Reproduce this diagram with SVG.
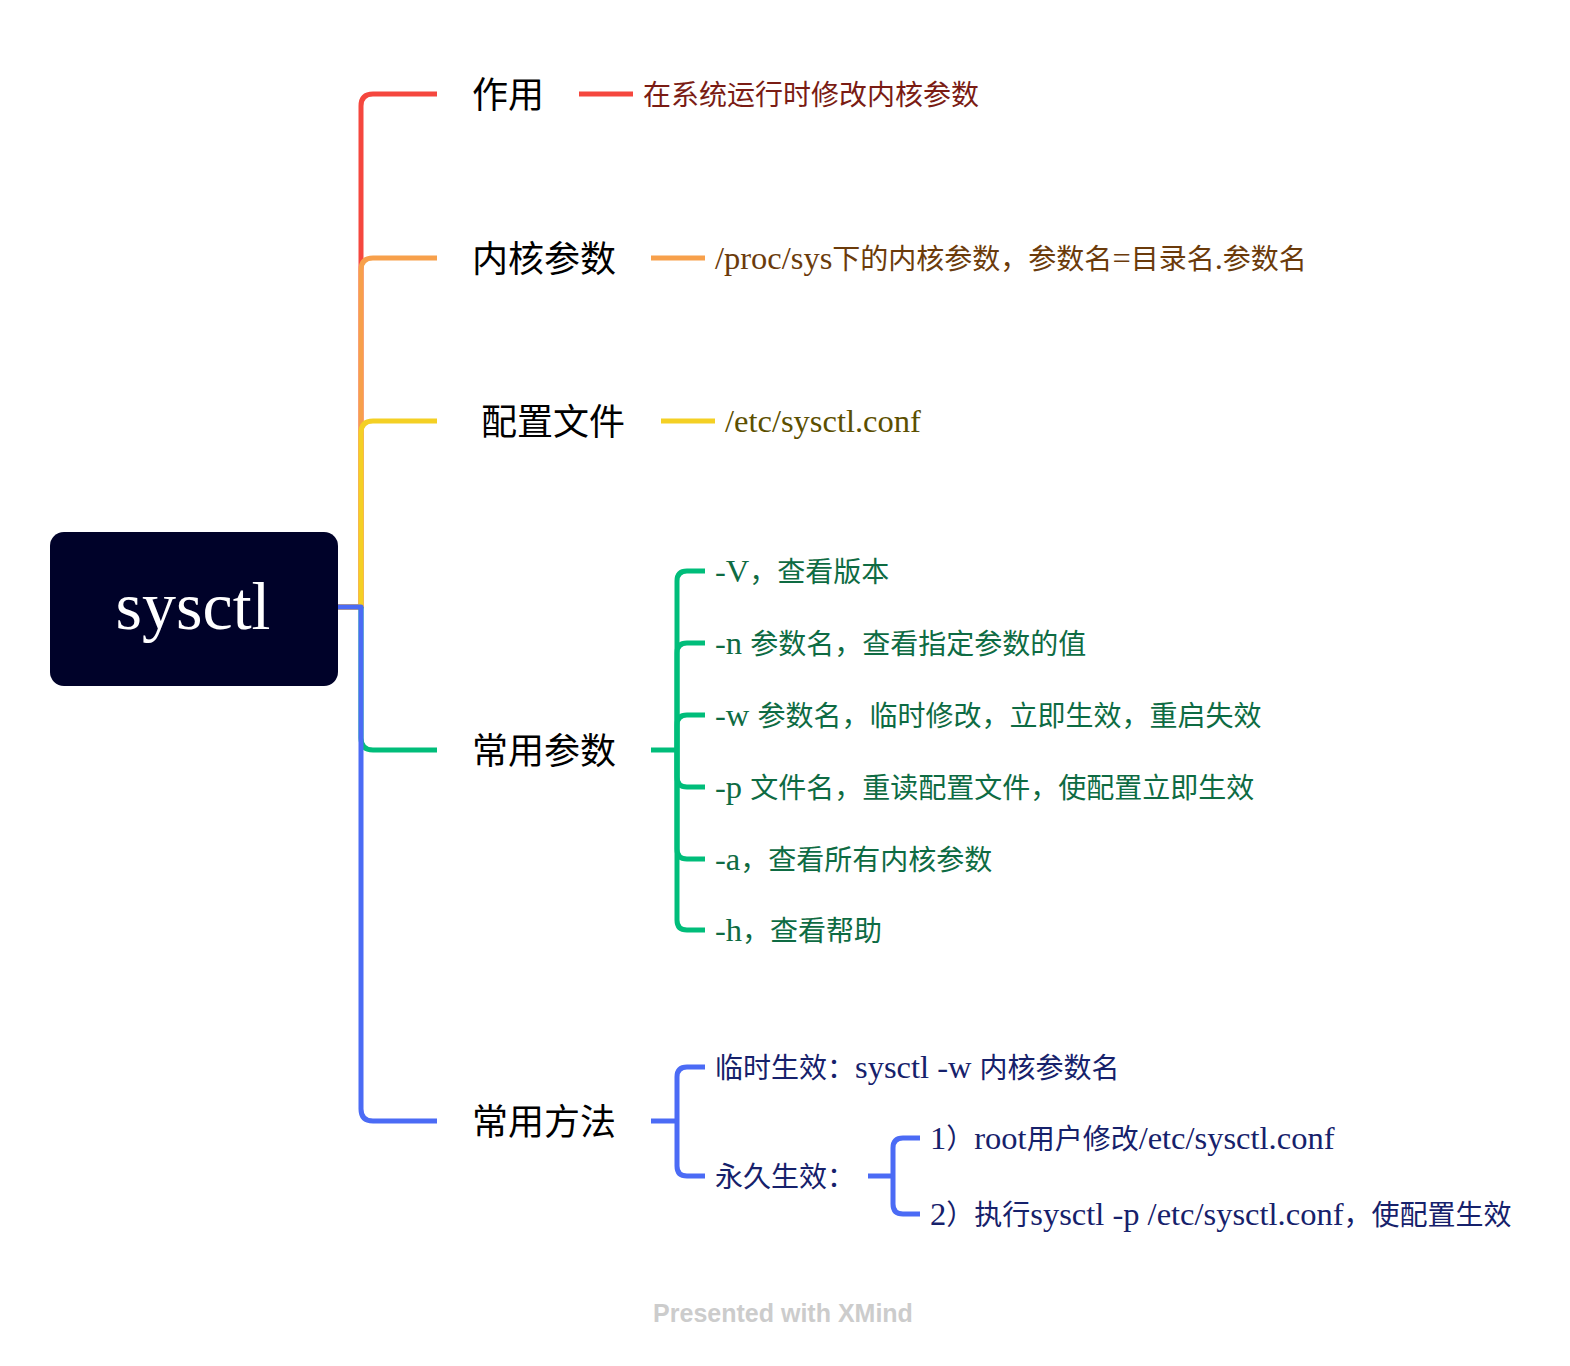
<svg xmlns="http://www.w3.org/2000/svg" width="1570" height="1366" viewBox="0 0 1570 1366">
<style>
.ln{fill:none;stroke-width:5;stroke-linecap:butt;stroke-linejoin:round}
.topic{font-family:"Noto Sans CJK SC","Noto Sans",sans-serif;font-size:36px;fill:#000}
.det{font-family:"Liberation Serif","Noto Sans CJK SC",serif;font-size:28px}
.lat{font-size:32.5px}
.cjk{font-family:"Noto Sans CJK SC",sans-serif}
.red{stroke:#F5473E}.org{stroke:#F7A04B}.yel{stroke:#F4D024}.grn{stroke:#00BD7A}.blu{stroke:#4B6BF5}
</style>
<rect width="1570" height="1366" fill="#fff"/>
<g id="connectors">
<path class="ln red" d="M338,607 H361 V106 Q361,94 373,94 H437"/>
<path class="ln org" d="M338,607 H361 V270 Q361,258 373,258 H437"/>
<path class="ln yel" d="M338,607 H361 V433 Q361,421 373,421 H437"/>
<path class="ln grn" d="M361,607 V738 Q361,750 373,750 H437"/>
<path class="ln blu" d="M338,607 H361 V1109 Q361,1121 373,1121 H437"/>
<path class="ln red" d="M579,94 H633"/>
<path class="ln org" d="M651,258 H705"/>
<path class="ln yel" d="M661,421 H715"/>
<path class="ln grn" d="M651,750 H677"/>
<path class="ln grn" d="M677,750 V581 Q677,571 687,571 H705"/>
<path class="ln grn" d="M677,750 V653 Q677,643 687,643 H705"/>
<path class="ln grn" d="M677,750 V725 Q677,715 687,715 H705"/>
<path class="ln grn" d="M677,750 V777 Q677,787 687,787 H705"/>
<path class="ln grn" d="M677,750 V849 Q677,859 687,859 H705"/>
<path class="ln grn" d="M677,750 V920 Q677,930 687,930 H705"/>
<path class="ln blu" d="M651,1121 H677"/>
<path class="ln blu" d="M677,1121 V1077 Q677,1067 687,1067 H705"/>
<path class="ln blu" d="M677,1121 V1166 Q677,1176 687,1176 H705"/>
<path class="ln blu" d="M868,1176 H893"/>
<path class="ln blu" d="M893,1176 V1148 Q893,1138 903,1138 H920"/>
<path class="ln blu" d="M893,1176 V1204 Q893,1214 903,1214 H920"/>
</g>
<g id="root">
<rect x="50" y="532" width="288" height="154" rx="14" fill="#000229"/>
<text x="193" y="629" text-anchor="middle" font-family="Liberation Serif, serif" font-size="68" fill="#fff">sysctl</text>
</g>
<g id="t1"><text class="topic" x="472" y="108">作用</text></g>
<g id="t1d"><text class="det" x="643" y="105" fill="#7A1C14"><tspan class="cjk">在系统运行时修改内核参数</tspan></text></g>
<g id="t2"><text class="topic" x="472" y="272">内核参数</text></g>
<g id="t2d"><text class="det" x="715" y="269" fill="#6B3B0B"><tspan class="lat">/proc/sys</tspan><tspan class="cjk">下的内核参数，参数名</tspan><tspan class="lat">=</tspan><tspan class="cjk">目录名</tspan><tspan class="lat">.</tspan><tspan class="cjk">参数名</tspan></text></g>
<g id="t3"><text class="topic" x="481" y="435">配置文件</text></g>
<g id="t3d"><text class="det" x="725" y="432" fill="#5C4F00"><tspan class="lat">/etc/sysctl.conf</tspan></text></g>
<g id="t4"><text class="topic" x="472" y="764">常用参数</text></g>
<g id="t4c">
<text class="det" x="715" y="582" fill="#0E6B43"><tspan class="lat">-V</tspan><tspan class="cjk">，查看版本</tspan></text>
<text class="det" x="715" y="654" fill="#0E6B43"><tspan class="lat">-n </tspan><tspan class="cjk">参数名，查看指定参数的值</tspan></text>
<text class="det" x="715" y="726" fill="#0E6B43"><tspan class="lat">-w </tspan><tspan class="cjk">参数名，临时修改，立即生效，重启失效</tspan></text>
<text class="det" x="715" y="798" fill="#0E6B43"><tspan class="lat">-p </tspan><tspan class="cjk">文件名，重读配置文件，使配置立即生效</tspan></text>
<text class="det" x="715" y="870" fill="#0E6B43"><tspan class="lat">-a</tspan><tspan class="cjk">，查看所有内核参数</tspan></text>
<text class="det" x="715" y="941" fill="#0E6B43"><tspan class="lat">-h</tspan><tspan class="cjk">，查看帮助</tspan></text>
</g>
<g id="t5"><text class="topic" x="472" y="1135">常用方法</text></g>
<g id="t5c">
<text class="det" x="715" y="1078" fill="#16216B"><tspan class="cjk">临时生效：</tspan><tspan class="lat">sysctl -w </tspan><tspan class="cjk">内核参数名</tspan></text>
<text class="det" x="715" y="1187" fill="#16216B"><tspan class="cjk">永久生效：</tspan></text>
<text class="det" x="930" y="1149" fill="#16216B"><tspan class="lat">1</tspan><tspan class="cjk">）</tspan><tspan class="lat">root</tspan><tspan class="cjk">用户修改</tspan><tspan class="lat">/etc/sysctl.conf</tspan></text>
<text class="det" x="930" y="1225" fill="#16216B"><tspan class="lat">2</tspan><tspan class="cjk">）执行</tspan><tspan class="lat">sysctl -p /etc/sysctl.conf</tspan><tspan class="cjk">，使配置生效</tspan></text>
</g>
<text x="783" y="1322" text-anchor="middle" font-family="Liberation Sans, sans-serif" font-weight="bold" font-size="25" fill="#CCCCCC">Presented with XMind</text>
</svg>
